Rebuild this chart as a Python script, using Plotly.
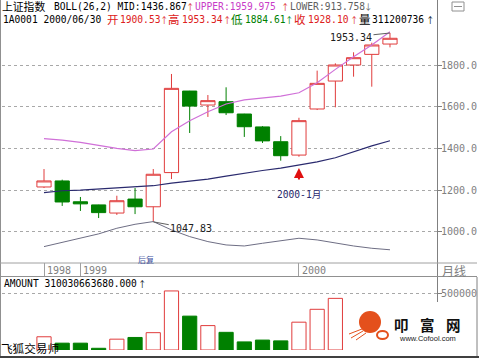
import plotly.graph_objects as go

W, H = 479, 359

# ---------------- data ----------------
months = ["1998-11", "1998-12", "1999-01", "1999-02", "1999-03", "1999-04", "1999-05",
          "1999-06", "1999-07", "1999-08", "1999-09", "1999-10", "1999-11", "1999-12",
          "2000-01", "2000-02", "2000-03", "2000-04", "2000-05", "2000-06"]
open_ = [1215, 1244, 1144, 1129, 1090, 1157, 1120, 1284, 1675, 1608, 1624, 1565, 1503, 1432,
         1368, 1589, 1723, 1800, 1851, 1900.53]
high = [1301, 1250, 1167, 1130, 1173, 1210, 1301, 1757, 1676, 1656, 1693, 1566, 1507, 1459,
        1547, 1773, 1808, 1861, 1907, 1953.34]
low = [1210, 1124, 1100, 1066, 1081, 1085, 1047.83, 1253, 1474, 1551, 1560, 1455, 1426, 1341,
       1360, 1584, 1597, 1744, 1696, 1884.61]
close = [1244, 1143, 1134, 1092, 1149, 1120, 1276, 1688, 1603, 1629, 1571, 1504, 1436, 1365,
         1533, 1712, 1800, 1835, 1896, 1928.10]

boll_upper = [1447, 1440, 1429, 1414, 1400, 1389, 1397, 1480, 1533, 1576, 1613, 1633, 1643, 1651,
              1667, 1715, 1779, 1840, 1896, 1959.975]
boll_mid = [1188, 1197, 1200, 1205, 1210, 1215, 1221, 1233, 1243, 1253, 1267, 1282, 1294, 1305,
            1320, 1335, 1355, 1385, 1412, 1436.867]
boll_lower = [929, 950, 969, 990, 1017, 1036, 1049, 1009, 977, 953, 937, 932, 945, 958,
              969, 961, 945, 932, 921, 913.758]

# visible volume bars (the last three are hidden behind the logo)
amount = [116000, 60000, 60000, 15000, 95000, 110000, 152000, 518000, 297000, 214000,
          155000, 71000, 87000, 80000, 244000, 357000, 453000]

price_ticks = [1000, 1200, 1400, 1600, 1800]
price_ticktext = ["1000.0", "1200.0", "1400.0", "1600.0", "1800.0"]
vol_ticks = [500000]
vol_ticktext = ["500000"]

last_volume = "311200736"
last_amount = "310030663680.000"

# ---------------- styling ----------------
RED = "#e03c3c"
TRED = "#dd2020"
GREEN = "#008000"
GRAY = "#808080"
MAG = "#c83cc8"
NAVY = "#2a2a6e"
MONO = "DejaVu Sans Mono, Noto Sans CJK SC, monospace"
CJK = "Noto Sans CJK SC, sans-serif"
MS = 9.6

idx = list(range(len(months)))
SP = 18.21
X0 = 44.0


def px(x):
    return x / W


def py(y):
    return 1 - y / H


def T(x, y, s, color="#000000", size=MS, family=MONO, anchor="left"):
    return dict(x=px(x), y=py(y), xref="paper", yref="paper", text=s, showarrow=False,
                xanchor=anchor, yanchor="middle", borderpad=0,
                font=dict(family=family, size=size, color=color))


def A(x, y, color="#000000", ch="↑"):
    return T(x, y, ch, color, 8.5, CJK)


def L(x0, y0, x1, y1, color=GRAY, width=1, dash="solid"):
    return dict(type="line", xref="paper", yref="paper", x0=px(x0), y0=py(y0), x1=px(x1),
                y1=py(y1), line=dict(color=color, width=width, dash=dash), layer="above")


xrange_ = [(2 - X0) / SP, (437 - X0) / SP]
xdom = [2 / W, 437 / W]
k = 200 / 41.7
yrange_main = [1800 - (262 - 65) * k, 1800 + (65 - 24) * k]
ydom_main = [1 - 262 / H, 1 - 24 / H]
vk = 500000 / 57
yrange_vol = [0, 70 * vk]
ydom_vol = [1 - 350 / H, 1 - 280 / H]

fig = go.Figure()

fig.add_trace(go.Candlestick(
    x=idx, open=open_, high=high, low=low, close=close,
    increasing=dict(line=dict(color=RED, width=1), fillcolor="white"),
    decreasing=dict(line=dict(color=GREEN, width=1), fillcolor=GREEN),
    whiskerwidth=0, xaxis="x", yaxis="y", showlegend=False, hoverinfo="skip"))

fig.add_trace(go.Scatter(x=idx, y=boll_upper, mode="lines", line=dict(color="#d070d8", width=1.2),
                         xaxis="x", yaxis="y", showlegend=False, hoverinfo="skip"))
fig.add_trace(go.Scatter(x=idx, y=boll_mid, mode="lines", line=dict(color=NAVY, width=1.2),
                         xaxis="x", yaxis="y", showlegend=False, hoverinfo="skip"))
fig.add_trace(go.Scatter(x=idx, y=boll_lower, mode="lines", line=dict(color="#6e6e84", width=1),
                         xaxis="x", yaxis="y", showlegend=False, hoverinfo="skip"))

up = [c >= o for o, c in zip(open_, close)]
vx = idx[:len(amount)]
fig.add_trace(go.Bar(
    x=vx, y=amount, width=0.78,
    marker=dict(color=["white" if up[i] else GREEN for i in vx],
                line=dict(color=[RED if up[i] else GREEN for i in vx], width=1)),
    xaxis="x2", yaxis="y2", showlegend=False, hoverinfo="skip"))

# year separators / labels from the months list
year_ticks, year_text = [], []
prev = None
for i, m in enumerate(months):
    yr = m[:4]
    if yr != prev:
        year_ticks.append(i)
        year_text.append(yr)
        prev = yr

axis_font = dict(family=MONO, size=10, color=GRAY)
fig.update_layout(
    width=W, height=H, autosize=False,
    margin=dict(l=0, r=0, t=0, b=0),
    paper_bgcolor="white", plot_bgcolor="white",
    boxgap=0.22, boxgroupgap=0,
    bargap=0,
    xaxis=dict(domain=xdom, range=xrange_, anchor="y", showgrid=False, zeroline=False,
               showline=False, tickvals=year_ticks, ticks="outside", ticklen=13,
               tickcolor="#a0a0a0", tickwidth=1, showticklabels=False,
               rangeslider=dict(visible=False), fixedrange=True),
    yaxis=dict(domain=ydom_main, range=yrange_main, anchor="x", side="right",
               tickvals=price_ticks, ticktext=price_ticktext, ticks="outside", ticklen=4,
               ticklabelstandoff=-3,
               tickcolor=GRAY, tickfont=axis_font, showgrid=True, gridcolor="#a8a8a8",
               griddash="dot", gridwidth=1, zeroline=False, showline=False, fixedrange=True),
    xaxis2=dict(domain=xdom, range=xrange_, anchor="y2", showgrid=False, zeroline=False,
                showline=False, showticklabels=False, ticks="", fixedrange=True),
    yaxis2=dict(domain=ydom_vol, range=yrange_vol, anchor="x2", side="right",
                tickvals=vol_ticks, ticktext=vol_ticktext, ticks="outside", ticklen=4,
                ticklabelstandoff=-3,
                tickcolor=GRAY, tickfont=axis_font, showgrid=True, gridcolor="#a8a8a8",
                griddash="dot", gridwidth=1, zeroline=False, showline=False, fixedrange=True),
)

shapes = [
    L(0.5, 0, 0.5, 357, "#909090"),
    L(437.5, 0, 437.5, 302, GRAY),
    L(0, 263, 477, 263, "#a0a0a0"),
    L(0, 276.5, 477, 276.5, "#909090"),
    L(477, 277, 477, 357, GRAY),
    L(0, 357, 479, 357, "#404040", 2),
    # small icon top-right
    dict(type="rect", xref="paper", yref="paper", x0=px(452), x1=px(464), y0=py(11), y1=py(2),
         line=dict(color="#909090", width=1), fillcolor="white"),
    L(454, 6.5, 462, 6.5, "#909090"),
    # logo (prawn)
    dict(type="circle", xref="paper", yref="paper", x0=px(359), x1=px(381), y0=py(333),
         y1=py(311), line=dict(width=0), fillcolor="#e4501c", layer="above"),
    dict(type="circle", xref="paper", yref="paper", x0=px(377), x1=px(388), y0=py(339),
         y1=py(331), line=dict(color="#e4501c", width=2), fillcolor="white", layer="above"),
    L(362, 329, 349, 334, "#e4501c", 1),
    L(363, 331, 351, 338, "#e4501c", 1),
    L(366, 333, 356, 340, "#e4501c", 1),
]

ann = [
    T(1, 7, "上证指数", "#000000", 10.8, MONO),
    T(53, 6.5, f"BOLL(26,2) MID:{boll_mid[-1]:.3f}"),
    A(185, 6.5, TRED),
    T(194, 6.5, f"UPPER:{boll_upper[-1]:.3f}", MAG),
    A(280, 6.5, TRED),
    T(289, 6.5, f"LOWER:{boll_lower[-1]:.3f}", "#606060"),
    A(363, 6.5, "#606060", "↓"),

    T(2, 19.5, "1A0001 2000/06/30"),
    T(106, 19.5, "开", TRED, 11.5, CJK),
    T(119, 19.5, f"{open_[-1]:.2f}", TRED),
    A(159, 19.5, TRED),
    T(167, 19.5, "高", TRED, 11.5, CJK),
    T(181, 19.5, f"{high[-1]:.2f}", TRED),
    A(222, 19.5, TRED),
    T(230, 19.5, "低", GREEN, 11.5, CJK),
    T(244, 19.5, f"{low[-1]:.2f}", GREEN),
    A(284, 19.5, GREEN),
    T(293, 19.5, "收", TRED, 11.5, CJK),
    T(307, 19.5, f"{close[-1]:.2f}", TRED),
    A(349, 19.5, TRED),
    T(358, 19.5, "量", "#000000", 11.5, CJK),
    T(371, 19.5, last_volume),
    A(425, 19.5),

    T(3, 283, f"AMOUNT {last_amount}"),
    A(137, 283),
    T(441, 270, "月线", GRAY, 12, CJK),
    T(137, 259, "后复", "#4050a0", 8, CJK),
    T(0, 348, "飞狐交易师", "#000000", 11.6, CJK),

    T(401, 324, "<b>叩</b>", "#111111", 14.5, CJK, "center"),
    T(427, 324, "<b>富</b>", "#111111", 14.5, CJK, "center"),
    T(453, 324, "<b>网</b>", "#111111", 14.5, CJK, "center"),
    T(427, 338.5, "www.Cofool.com", "#222222", 7.5, "Liberation Sans, sans-serif", "center"),
]

for i, yt in zip(year_ticks, year_text):
    ann.append(dict(x=i, xref="x", y=py(270), yref="paper", text=yt, showarrow=False,
                    xanchor="left", yanchor="middle", xshift=2, borderpad=0,
                    font=dict(family=MONO, size=10, color=GRAY)))

hi_i = max(idx, key=lambda i: high[i])
lo_i = min(idx, key=lambda i: low[i])
ann.append(dict(x=hi_i, y=high[hi_i], xref="x", yref="y", text=f"{high[hi_i]:.2f}",
                showarrow=True, arrowhead=0, arrowwidth=1, arrowcolor="#606060", ax=-39, ay=4,
                font=dict(family=MONO, size=10, color="#202020")))
ann.append(dict(x=lo_i, y=low[lo_i], xref="x", yref="y", text=f"{low[lo_i]:.2f}",
                showarrow=True, arrowhead=0, arrowwidth=1, arrowcolor="#606060", ax=38, ay=7,
                font=dict(family=MONO, size=10, color="#202020")))

mark_i = months.index("2000-01")
ann.append(dict(x=mark_i, y=1306, xref="x", yref="y", text="", showarrow=True, arrowhead=2,
                arrowsize=1, arrowwidth=2, arrowcolor="#e01010", ax=0, ay=13, standoff=0))
ann.append(dict(x=mark_i, y=1181, xref="x", yref="y", text="2000-1月", showarrow=False,
                xanchor="center", yanchor="middle",
                font=dict(family=MONO, size=MS, color=NAVY)))

fig.update_layout(shapes=shapes, annotations=ann)

fig.write_html("out.html", config={"displayModeBar": False, "staticPlot": True},
               post_script="document.body.style.margin='0';document.body.style.padding='0';"
                           "document.body.style.overflow='hidden';")
